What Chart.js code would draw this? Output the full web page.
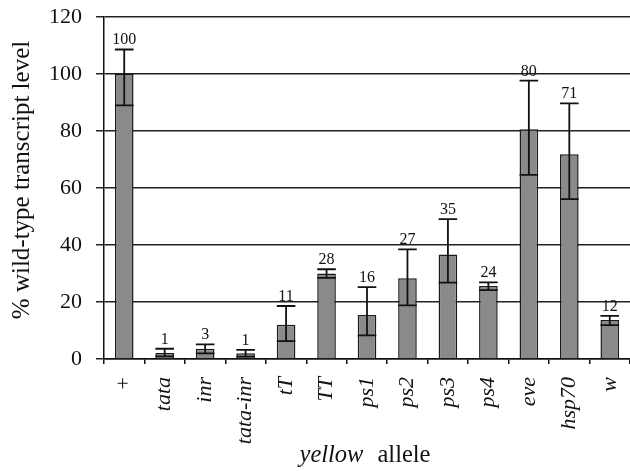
<!DOCTYPE html>
<html>
<head>
<meta charset="utf-8">
<script src="https://cdn.jsdelivr.net/npm/chart.js@4"></script>
<style>
  html, body { margin: 0; padding: 0; background: #fff; }
  #wrap { width: 630px; height: 471px; position: relative; }
</style>
</head>
<body>
<div id="wrap"><canvas id="c"></canvas></div>
<script>
// ---- data ----
const categories = ['+', 'tata', 'inr', 'tata-inr', 'tT', 'TT', 'ps1', 'ps2', 'ps3', 'ps4', 'eve', 'hsp70', 'w'];
const barValues  = [100, 2.1, 3.6, 2.0, 12, 30, 15.4, 28.3, 36.7, 25.6, 80.6, 71.8, 13.7];
const errLow     = [89, 0.9, 2.0, 0.8, 6.3, 28.5, 8.3, 18.8, 26.8, 24.2, 64.6, 56.1, 11.9];
const errHigh    = [108.6, 3.6, 5.1, 3.2, 18.6, 31.5, 25.2, 38.5, 49.1, 26.9, 97.7, 89.7, 15.1];
const valueLabels = ['100', '1', '3', '1', '11', '28', '16', '27', '35', '24', '80', '71', '12'];
const yTicks = [0, 20, 40, 60, 80, 100, 120];
const yTitle = '% wild-type transcript level';
const xTitleItalic = 'yellow';
const xTitleRoman = 'allele';

const SERIF = "'Liberation Serif', 'Times New Roman', serif";

const extrasPlugin = {
  id: 'extras',
  afterDatasetsDraw(chart) {
    const ctx = chart.ctx;
    const y = chart.scales.y;
    const meta = chart.getDatasetMeta(0);
    ctx.save();
    ctx.strokeStyle = '#111';
    ctx.fillStyle = '#111';
    ctx.lineWidth = 1.8;
    meta.data.forEach((bar, i) => {
      const half = bar.width / 2;
      const x = bar.x;
      const yh = y.getPixelForValue(errHigh[i]);
      const yl = y.getPixelForValue(errLow[i]);
      ctx.beginPath();
      ctx.moveTo(x, yl); ctx.lineTo(x, yh);
      ctx.moveTo(x - half, yh); ctx.lineTo(x + half, yh);
      ctx.moveTo(x - half, yl); ctx.lineTo(x + half, yl);
      ctx.stroke();
      ctx.font = '16px ' + SERIF;
      ctx.textAlign = 'center';
      ctx.textBaseline = 'alphabetic';
      ctx.fillText(valueLabels[i], x, yh - 5);
    });
    ctx.restore();
  },
  afterDraw(chart) {
    const ctx = chart.ctx;
    const a = chart.chartArea;
    ctx.save();
    ctx.fillStyle = '#111';
    ctx.translate(29, 180);
    ctx.rotate(-Math.PI / 2);
    ctx.font = '25px ' + SERIF;
    ctx.textAlign = 'center';
    ctx.textBaseline = 'alphabetic';
    ctx.fillText(yTitle, 0, 0);
    ctx.restore();
    ctx.save();
    ctx.fillStyle = '#111';
    ctx.textBaseline = 'alphabetic';
    ctx.textAlign = 'left';
    const fi = 'italic 24.5px ' + SERIF;
    const fr = '24.5px ' + SERIF;
    ctx.font = fi; const w1 = ctx.measureText(xTitleItalic).width;
    ctx.font = fr; const w2 = ctx.measureText(xTitleRoman).width;
    const gap = 14;
    const total = w1 + gap + w2;
    const cx = (a.left + a.right) / 2 - 2;
    const x0 = cx - total / 2;
    ctx.font = fi; ctx.fillText(xTitleItalic, x0, 462);
    ctx.font = fr; ctx.fillText(xTitleRoman, x0 + w1 + gap, 462);
    ctx.restore();
  }
};

new Chart(document.getElementById('c'), {
  type: 'bar',
  data: {
    labels: categories,
    datasets: [{
      data: barValues,
      backgroundColor: '#8a8a8a',
      borderColor: '#1a1a1a',
      borderWidth: 1.5,
      barPercentage: 0.46,
      categoryPercentage: 1.0
    }]
  },
  options: {
    responsive: true,
    maintainAspectRatio: false,
    animation: false,
    layout: { padding: { top: 17, right: 0, left: 0, bottom: 0 } },
    plugins: { legend: { display: false }, tooltip: { enabled: false } },
    scales: {
      x: {
        offset: true,
        grid: { display: true, drawOnChartArea: false, offset: true, tickLength: 5, color: '#111', lineWidth: 1.5 },
        border: { display: true, color: '#111', width: 1.5 },
        ticks: {
          color: '#111',
          minRotation: 90,
          maxRotation: 90,
          padding: 13,
          autoSkip: false,
          font: (c) => ({ family: SERIF, size: 22, style: c.index === 0 ? 'normal' : 'italic' })
        },
        afterFit(scale) {
          scale.height = 112;
          scale.paddingLeft = 0; scale.paddingRight = 0;
        }
      },
      y: {
        min: 0,
        max: 120,
        afterBuildTicks(scale) { scale.ticks = yTicks.map(v => ({ value: v })); },
        grid: { color: '#222', lineWidth: 1.5, tickLength: 8 },
        border: { display: true, color: '#111', width: 1.5 },
        ticks: { color: '#111', padding: 14, font: { family: SERIF, size: 22 } },
        afterFit(scale) {
          scale.width = 104;
          scale.paddingTop = 0; scale.paddingBottom = 0;
        }
      }
    }
  },
  plugins: [extrasPlugin]
});
</script>
</body>
</html>
